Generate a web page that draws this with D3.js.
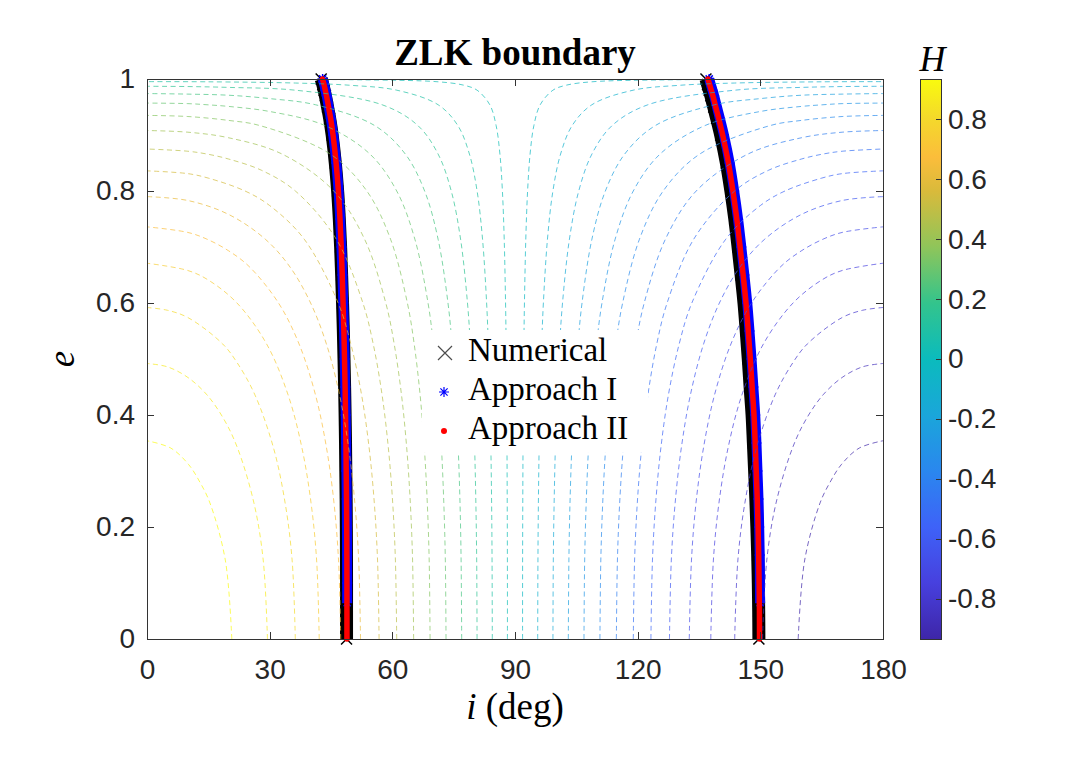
<!DOCTYPE html>
<html>
<head>
<meta charset="utf-8">
<script src="https://cdn.jsdelivr.net/npm/d3@7"></script>
<style>
  body { margin: 0; background: #fff; }
  svg { display: block; }
</style>
</head>
<body>
<svg id="chart" width="1080" height="763"></svg>
<script>
// ---- axes / ticks ----
const xTicks = [0, 30, 60, 90, 120, 150, 180];
const yTicks = [0, 0.2, 0.4, 0.6, 0.8, 1];
const cbTicks = [-0.8, -0.6, -0.4, -0.2, 0, 0.2, 0.4, 0.6, 0.8];
const cbRange = [-0.9352, 0.9352];

// parula colormap anchors (position 0..1, colour)
const parulaPos = [0, 0.1, 0.2, 0.3, 0.4, 0.5, 0.6, 0.7, 0.8, 0.86, 0.93, 1];
const parulaColors = ["#3e26a8", "#4740de", "#3e62f8", "#2a87ee", "#1aa6da", "#0bbbbd",
  "#33c48c", "#8fc55a", "#d9ba3b", "#fbbd3b", "#f4d92b", "#f9fb0e"];

// ---- H contour levels and their lines, [i (deg), e] ----
const hLevels = [0.9352, 0.8707, 0.8062, 0.7417, 0.6772, 0.6127, 0.5482, 0.4837, 0.4192, 0.3547,
  0.2902, 0.2257, 0.1612, 0.0967, 0.0322, -0.0322, -0.0967, -0.1612, -0.2257, -0.2902,
  -0.3547, -0.4192, -0.4837, -0.5482, -0.6127, -0.6772, -0.7417, -0.8062, -0.8707, -0.9352];

const contourPoints = [
  [[20.74,0],[19.15,0.141],[15.39,0.243],[12.94,0.28],[10.13,0.312],[5.8,0.341],[0,0.354]],
  [[29.46,0],[28.42,0.141],[26.15,0.243],[22.14,0.341],[18.84,0.392],[14.66,0.436],[10,0.467],[5,0.486],[0,0.492]],
  [[36.27,0],[35.49,0.141],[33.78,0.243],[30.95,0.341],[26.39,0.436],[22.08,0.493],[18.49,0.527],[10,0.574],[5,0.587],[0,0.592]],
  [[42.12,0],[41.48,0.141],[40.12,0.243],[37.9,0.341],[34.5,0.436],[29.24,0.527],[22,0.6],[15,0.641],[10,0.658],[0,0.671]],
  [[47.38,0],[46.84,0.141],[45.73,0.243],[43.91,0.341],[41.2,0.436],[37.18,0.527],[32.16,0.6],[25,0.665],[20,0.693],[14.66,0.714],[10,0.726],[0,0.736]],
  [[52.22,0],[51.77,0.141],[50.83,0.243],[49.33,0.341],[47.1,0.436],[43.87,0.527],[40.01,0.6],[35,0.664],[28.92,0.714],[20,0.758],[10,0.783],[0,0.79]],
  [[56.76,0],[56.38,0.141],[55.59,0.243],[54.33,0.341],[52.48,0.436],[49.84,0.527],[46.75,0.6],[38.45,0.714],[30,0.774],[23.98,0.8],[15,0.823],[10,0.831],[0,0.836]],
  [[61.07,0],[60.75,0.141],[60.09,0.243],[59.03,0.341],[57.49,0.436],[55.32,0.527],[52.8,0.6],[46.29,0.714],[36.28,0.8],[28,0.837],[20,0.857],[14.67,0.866],[10,0.871],[0,0.875]],
  [[65.21,0],[64.95,0.141],[64.4,0.243],[63.52,0.341],[62.24,0.436],[60.45,0.527],[58.4,0.6],[53.21,0.714],[45.68,0.8],[33.03,0.866],[20,0.895],[10,0.905],[0,0.908]],
  [[69.23,0],[69.01,0.141],[68.55,0.243],[67.83,0.341],[66.79,0.436],[65.34,0.527],[63.68,0.6],[59.56,0.714],[53.76,0.8],[44.81,0.866],[27.52,0.917],[20,0.926],[10,0.933],[0,0.935]],
  [[73.13,0],[72.96,0.141],[72.59,0.243],[72.02,0.341],[71.19,0.436],[70.04,0.527],[68.73,0.6],[65.51,0.714],[61.07,0.8],[54.52,0.866],[43.49,0.917],[30,0.942],[20,0.951],[14.68,0.954],[10,0.956],[0,0.957]],
  [[76.96,0],[76.82,0.141],[76.55,0.243],[76.11,0.341],[75.48,0.436],[74.6,0.527],[73.61,0.6],[71.19,0.714],[67.9,0.8],[63.17,0.866],[55.65,0.917],[41.2,0.954],[30,0.965],[20,0.971],[10,0.973],[0,0.974]],
  [[80.72,0],[80.63,0.141],[80.43,0.243],[80.13,0.341],[79.68,0.436],[79.07,0.527],[78.38,0.6],[76.69,0.714],[74.41,0.8],[71.19,0.866],[66.23,0.917],[57.5,0.954],[36.29,0.98],[20,0.985],[10,0.9865],[0,0.987]],
  [[84.45,0],[84.39,0.141],[84.28,0.243],[84.1,0.341],[83.83,0.436],[83.47,0.527],[83.06,0.6],[82.06,0.714],[80.73,0.8],[78.85,0.866],[76.01,0.917],[71.2,0.954],[61.09,0.98],[49.86,0.9887],[36.31,0.9928],[14.76,0.995],[0,0.9953]],
  [[88.15,0],[88.14,0.141],[88.1,0.243],[88.04,0.341],[87.95,0.436],[87.83,0.527],[87.69,0.6],[87.36,0.714],[86.92,0.8],[86.31,0.866],[85.38,0.917],[83.84,0.954],[80.73,0.98],[77.61,0.9887],[71.22,0.995],[49.9,0.9987],[0,0.9995]],
  [[91.85,0],[91.86,0.141],[91.9,0.243],[91.96,0.341],[92.05,0.436],[92.17,0.527],[92.31,0.6],[92.64,0.714],[93.08,0.8],[93.69,0.866],[94.62,0.917],[96.16,0.954],[99.27,0.98],[102.39,0.9887],[108.78,0.995],[130.1,0.9987],[180,0.9995]],
  [[95.55,0],[95.61,0.141],[95.72,0.243],[95.9,0.341],[96.17,0.436],[96.53,0.527],[96.94,0.6],[97.94,0.714],[99.27,0.8],[101.15,0.866],[103.99,0.917],[108.8,0.954],[118.91,0.98],[130.14,0.9887],[143.69,0.9928],[165.24,0.995],[180,0.9953]],
  [[99.28,0],[99.37,0.141],[99.57,0.243],[99.87,0.341],[100.32,0.436],[100.93,0.527],[101.62,0.6],[103.31,0.714],[105.59,0.8],[108.81,0.866],[113.77,0.917],[122.5,0.954],[143.71,0.98],[160,0.985],[170,0.9865],[180,0.987]],
  [[103.04,0],[103.18,0.141],[103.45,0.243],[103.89,0.341],[104.52,0.436],[105.4,0.527],[106.39,0.6],[108.81,0.714],[112.1,0.8],[116.83,0.866],[124.35,0.917],[138.8,0.954],[150,0.965],[160,0.971],[170,0.973],[180,0.974]],
  [[106.87,0],[107.04,0.141],[107.41,0.243],[107.98,0.341],[108.81,0.436],[109.96,0.527],[111.27,0.6],[114.49,0.714],[118.93,0.8],[125.48,0.866],[136.51,0.917],[150,0.942],[160,0.951],[165.32,0.954],[170,0.956],[180,0.957]],
  [[110.77,0],[110.99,0.141],[111.45,0.243],[112.17,0.341],[113.21,0.436],[114.66,0.527],[116.32,0.6],[120.44,0.714],[126.24,0.8],[135.19,0.866],[152.48,0.917],[160,0.926],[170,0.933],[180,0.935]],
  [[114.79,0],[115.05,0.141],[115.6,0.243],[116.48,0.341],[117.76,0.436],[119.55,0.527],[121.6,0.6],[126.79,0.714],[134.32,0.8],[146.97,0.866],[160,0.895],[170,0.905],[180,0.908]],
  [[118.93,0],[119.25,0.141],[119.91,0.243],[120.97,0.341],[122.51,0.436],[124.68,0.527],[127.2,0.6],[133.71,0.714],[143.72,0.8],[152,0.837],[160,0.857],[165.33,0.866],[170,0.871],[180,0.875]],
  [[123.24,0],[123.62,0.141],[124.41,0.243],[125.67,0.341],[127.52,0.436],[130.16,0.527],[133.25,0.6],[141.55,0.714],[150,0.774],[156.02,0.8],[165,0.823],[170,0.831],[180,0.836]],
  [[127.78,0],[128.23,0.141],[129.17,0.243],[130.67,0.341],[132.9,0.436],[136.13,0.527],[139.99,0.6],[145,0.664],[151.08,0.714],[160,0.758],[170,0.783],[180,0.79]],
  [[132.62,0],[133.16,0.141],[134.27,0.243],[136.09,0.341],[138.8,0.436],[142.82,0.527],[147.84,0.6],[155,0.665],[160,0.693],[165.34,0.714],[170,0.726],[180,0.736]],
  [[137.88,0],[138.52,0.141],[139.88,0.243],[142.1,0.341],[145.5,0.436],[150.76,0.527],[158,0.6],[165,0.641],[170,0.658],[180,0.671]],
  [[143.73,0],[144.51,0.141],[146.22,0.243],[149.05,0.341],[153.61,0.436],[157.92,0.493],[161.51,0.527],[170,0.574],[175,0.587],[180,0.592]],
  [[150.54,0],[151.58,0.141],[153.85,0.243],[157.86,0.341],[161.16,0.392],[165.34,0.436],[170,0.467],[175,0.486],[180,0.492]],
  [[159.26,0],[160.85,0.141],[164.61,0.243],[167.06,0.28],[169.87,0.312],[174.2,0.341],[180,0.354]]
];

// ---- ZLK boundary: e values and inclinations (deg) ----
const boundaryE = [0, 0.05, 0.1, 0.15, 0.2, 0.25, 0.3, 0.35, 0.4, 0.45, 0.5, 0.55, 0.6,
  0.65, 0.7, 0.75, 0.8, 0.85, 0.9, 0.93, 0.95, 0.97, 0.98, 0.99, 1.0];
const numericalLeft = [48.8, 48.8, 48.8, 48.78, 48.75, 48.7, 48.62, 48.55, 48.45, 48.33, 48.18,
  48.02, 47.82, 47.6, 47.35, 47.03, 46.62, 46.05, 45.28, 44.66, 44.15, 43.63, 43.32, 43.0, 42.6];
const numericalRight = [149.65, 149.6, 149.5, 149.35, 149.15, 148.9, 148.6, 148.3, 147.98, 147.5,
  147.05, 146.55, 146.0, 145.3, 144.55, 143.75, 142.8, 141.7, 140.3, 139.3, 138.6, 137.9, 137.5, 137.1, 136.7];
const approach2Left = [48.9, 48.9, 48.9, 48.88, 48.85, 48.8, 48.72, 48.65, 48.55, 48.45, 48.3,
  48.15, 47.95, 47.75, 47.5, 47.2, 46.8, 46.25, 45.5, 44.9, 44.4, 43.9, 43.6, 43.3, 42.9];
const approach2Right = [149.8, 149.78, 149.7, 149.6, 149.45, 149.25, 149.0, 148.75, 148.45, 148.0,
  147.55, 147.05, 146.5, 145.8, 145.05, 144.25, 143.3, 142.2, 140.8, 139.8, 139.1, 138.4, 138.0, 137.6, 137.2];

const approach1E = [0.065, 0.1, 0.15, 0.2, 0.25, 0.3, 0.35, 0.4, 0.45, 0.5, 0.55, 0.6,
  0.65, 0.7, 0.75, 0.8, 0.85, 0.9, 0.93, 0.95, 0.97, 0.98, 0.99, 1.0];
const approach1Left = [48.95, 48.95, 48.93, 48.9, 48.85, 48.77, 48.7, 48.6, 48.5, 48.35, 48.2, 48.0,
  47.8, 47.55, 47.25, 46.85, 46.3, 45.55, 44.95, 44.45, 43.95, 43.65, 43.35, 42.95];
const approach1Right = [149.95, 149.9, 149.85, 149.72, 149.55, 149.3, 149.05, 148.75, 148.3, 147.85,
  147.35, 146.8, 146.1, 145.35, 144.55, 143.6, 142.5, 141.1, 140.1, 139.4, 138.7, 138.3, 137.9, 137.5];

const legendLabels = ["Numerical", "Approach I", "Approach II"];

// ---------------------------------------------------------------
const svg = d3.select("#chart");
const margin = { top: 79, left: 147 };
const plotW = 736, plotH = 560;
const serif = "'Liberation Serif', 'DejaVu Serif', serif";
const sans = "'Liberation Sans', Arial, sans-serif";

const x = d3.scaleLinear().domain([0, 180]).range([0, plotW]);
const y = d3.scaleLinear().domain([0, 1]).range([plotH, 0]);

const hColor = d3.scaleLinear()
  .domain(parulaPos.map((t) => cbRange[0] + t * (cbRange[1] - cbRange[0])))
  .range(parulaColors)
  .clamp(true);

const chart = svg.append("g")
  .attr("transform", `translate(${margin.left}, ${margin.top})`);

const defs = svg.append("defs");
defs.append("clipPath").attr("id", "plotClip")
  .append("rect").attr("width", plotW).attr("height", plotH);

// boundary curves
const line = d3.line().x((d) => x(d[0])).y((d) => y(d[1])).curve(d3.curveCatmullRom.alpha(0.5));
const zipIE = (is, es) => is.map((v, k) => [v, es[k]]);

const numSets = [zipIE(numericalLeft, boundaryE), zipIE(numericalRight, boundaryE)];
const ap1Sets = [zipIE(approach1Left, approach1E), zipIE(approach1Right, approach1E)];
const ap2Sets = [zipIE(approach2Left, boundaryE), zipIE(approach2Right, boundaryE)];

numSets.forEach((pts) => {
  chart.append("path").datum(pts)
    .attr("fill", "none").attr("stroke", "#000").attr("stroke-width", 13)
    .attr("d", line);
  chart.append("g").selectAll("path").data(pts).enter().append("path")
    .attr("transform", (d) => `translate(${x(d[0])}, ${y(d[1])})`)
    .attr("d", "M-5.5,-5.5L5.5,5.5M-5.5,5.5L5.5,-5.5")
    .attr("stroke", "#000").attr("stroke-width", 1.5);
});

ap1Sets.forEach((pts) => {
  chart.append("path").datum(pts)
    .attr("fill", "none").attr("stroke", "#0000ff").attr("stroke-width", 10)
    .attr("d", line);
  chart.append("g").selectAll("path").data(pts).enter().append("path")
    .attr("transform", (d) => `translate(${x(d[0])}, ${y(d[1])})`)
    .attr("d", "M-5,0L5,0M0,-5L0,5M-3.6,-3.6L3.6,3.6M-3.6,3.6L3.6,-3.6")
    .attr("stroke", "#0000ff").attr("stroke-width", 1.5);
});

ap2Sets.forEach((pts) => {
  chart.append("path").datum(pts)
    .attr("fill", "none").attr("stroke", "#ff0000").attr("stroke-width", 5.5)
    .attr("stroke-linecap", "round")
    .attr("d", line);
});

// H contours (dashed, coloured by level)
const contourG = chart.append("g").attr("clip-path", "url(#plotClip)");
contourG.selectAll("path")
  .data(contourPoints)
  .enter()
  .append("path")
  .attr("fill", "none")
  .attr("stroke", (d, k) => hColor(hLevels[k]))
  .attr("stroke-width", 1)
  .attr("stroke-opacity", 0.7)
  .attr("stroke-dasharray", "5,3.5")
  .attr("d", line);

// axes
const axisColor = "#333";
chart.append("rect")
  .attr("width", plotW).attr("height", plotH)
  .attr("fill", "none").attr("stroke", axisColor).attr("stroke-width", 1)
  .attr("shape-rendering", "crispEdges");

function styleAxis(g, showText) {
  g.select(".domain").remove();
  g.selectAll(".tick line").attr("stroke", axisColor).attr("shape-rendering", "crispEdges");
  g.selectAll(".tick text")
    .attr("fill", "#262626")
    .style("font-family", sans)
    .style("font-size", "28px")
    .style("display", showText ? null : "none");
}

chart.append("g").attr("transform", `translate(0, ${plotH})`)
  .call(d3.axisBottom(x).tickValues(xTicks).tickSizeInner(-7).tickSizeOuter(0)
    .tickPadding(20).tickFormat((d) => String(d)))
  .call((g) => styleAxis(g, true));
chart.append("g")
  .call(d3.axisTop(x).tickValues(xTicks).tickSizeInner(-7).tickSizeOuter(0))
  .call((g) => styleAxis(g, false));
chart.append("g")
  .call(d3.axisLeft(y).tickValues(yTicks).tickSizeInner(-7).tickSizeOuter(0)
    .tickPadding(12).tickFormat((d) => String(d)))
  .call((g) => styleAxis(g, true));
chart.append("g").attr("transform", `translate(${plotW}, 0)`)
  .call(d3.axisRight(y).tickValues(yTicks).tickSizeInner(-7).tickSizeOuter(0))
  .call((g) => styleAxis(g, false));

// legend
const legend = svg.append("g").attr("transform", "translate(422, 330)");
legend.append("rect").attr("width", 226).attr("height", 122).attr("fill", "#fff");
const rowY = [23, 62, 101];
legend.selectAll("text").data(legendLabels).enter().append("text")
  .attr("x", 46).attr("y", (d, k) => rowY[k] + 8)
  .style("font-family", serif).style("font-size", "33px")
  .attr("fill", "#000")
  .text((d) => d);
legend.append("path").attr("transform", `translate(23, ${rowY[0]})`)
  .attr("d", "M-7,-7L7,7M-7,7L7,-7").attr("stroke", "#4d4d4d").attr("stroke-width", 1.2);
legend.append("path").attr("transform", `translate(22, ${rowY[1]})`)
  .attr("d", "M-5,0L5,0M0,-5L0,5M-3.6,-3.6L3.6,3.6M-3.6,3.6L3.6,-3.6")
  .attr("stroke", "#0000ff").attr("stroke-width", 1.2);
legend.append("circle").attr("cx", 22).attr("cy", rowY[2]).attr("r", 3).attr("fill", "#ff0000");

// colorbar
const cbX = 920, cbW = 21;
const grad = defs.append("linearGradient").attr("id", "parula")
  .attr("x1", 0).attr("y1", 1).attr("x2", 0).attr("y2", 0);
grad.selectAll("stop").data(parulaPos).enter().append("stop")
  .attr("offset", (d) => d)
  .attr("stop-color", (d, k) => parulaColors[k]);

const cbY = d3.scaleLinear().domain(cbRange).range([plotH, 0]);
const cb = svg.append("g").attr("transform", `translate(${cbX}, ${margin.top})`);
cb.append("rect").attr("width", cbW).attr("height", plotH)
  .attr("fill", "url(#parula)").attr("stroke", axisColor).attr("stroke-width", 1)
  .attr("shape-rendering", "crispEdges");
cb.append("g").attr("transform", `translate(${cbW}, 0)`)
  .call(d3.axisRight(cbY).tickValues(cbTicks).tickSizeInner(-5).tickSizeOuter(0)
    .tickPadding(7).tickFormat((d) => String(d)))
  .call((g) => styleAxis(g, true));

svg.append("text")
  .attr("x", cbX + cbW / 2 + 2).attr("y", 71)
  .attr("text-anchor", "middle")
  .style("font-family", serif).style("font-size", "36px").style("font-style", "italic")
  .text("H");

// title and labels
svg.append("text")
  .attr("x", margin.left + plotW / 2).attr("y", 65)
  .attr("text-anchor", "middle")
  .style("font-family", serif).style("font-size", "37px").style("font-weight", "bold")
  .text("ZLK boundary");

const xl = svg.append("text")
  .attr("x", margin.left + plotW / 2).attr("y", 719)
  .attr("text-anchor", "middle")
  .style("font-family", serif).style("font-size", "37px");
xl.append("tspan").style("font-style", "italic").text("i");
xl.append("tspan").text(" (deg)");

svg.append("text")
  .attr("transform", `translate(74, ${margin.top + plotH / 2}) rotate(-90)`)
  .attr("text-anchor", "middle")
  .style("font-family", serif).style("font-size", "37px").style("font-style", "italic")
  .text("e");
</script>
</body>
</html>
